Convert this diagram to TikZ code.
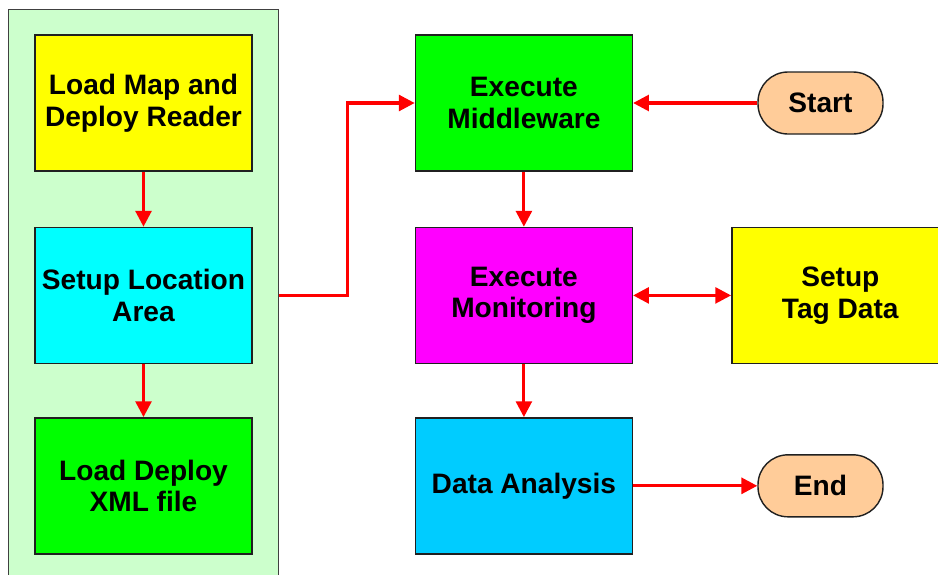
\documentclass[tikz,border=0pt]{standalone}
\usepackage{fontspec}
\setmainfont{Liberation Sans}
\usepackage{tikz}
\usetikzlibrary{positioning,arrows.meta}
\definecolor{panelfill}{HTML}{CCFFCC}
\definecolor{panelline}{HTML}{404040}
\definecolor{boxline}{HTML}{202020}
\definecolor{loadfill}{HTML}{FFFF00}
\definecolor{areafill}{HTML}{00FFFF}
\definecolor{xmlfill}{HTML}{00FF00}
\definecolor{monfill}{HTML}{FF00FF}
\definecolor{datafill}{HTML}{00CCFF}
\definecolor{termfill}{HTML}{FFCC99}
\definecolor{flowred}{HTML}{FF0000}
\tikzset{
  stepbox/.style={draw=boxline, line width=0.8pt, align=center, minimum width=4.34cm, minimum height=2.72cm,
                  inner sep=2pt, font=\fontsize{16}{18}\selectfont\bfseries},
  term/.style={draw=boxline, line width=0.8pt, fill=termfill, rounded corners=0.6cm, minimum width=2.5cm,
               minimum height=1.24cm, font=\fontsize{16}{18}\selectfont\bfseries},
  panel/.style={draw=panelline, line width=0.8pt, fill=panelfill, anchor=north west, inner sep=0pt},
  flow/.style={-{Triangle[length=9pt,width=9pt]}, draw=flowred, line width=1.8pt},
  both/.style={{Triangle[length=9pt,width=9pt]}-{Triangle[length=9pt,width=9pt]}, draw=flowred, line width=1.8pt},
}

\begin{document}
\begin{tikzpicture}
  \clip (0,0) rectangle (18.76,-11.48);
  \node[panel, minimum width=5.4cm, minimum height=12cm] (panel) at (0.16,-0.18) {};
  % left column
  \node[stepbox, fill=loadfill] (load) at (2.87,-2.06) {Load Map and\\Deploy Reader};
  \node[stepbox, fill=areafill, below=1.1cm of load] (area) {Setup Location\\Area};
  \node[stepbox, fill=xmlfill, below=1.06cm of area] (xml) {Load Deploy\\XML file};
  % middle column
  \node[stepbox, fill=xmlfill, right=3.24cm of load] (mw) {Execute\\Middleware};
  \node[stepbox, fill=monfill, below=1.1cm of mw] (mon) {Execute\\Monitoring};
  \node[stepbox, fill=datafill, below=1.06cm of mon] (data) {Data Analysis};
  % right side
  \node[stepbox, fill=loadfill, right=1.96cm of mon] (tag) {Setup\\Tag Data};
  \node[term] (start) at (16.41,-2.06) {Start};
  \node[term] (end) at (start |- data) {End};
  \foreach \a/\b in {load/area,area/xml,mw/mon,mon/data} \draw[flow] (\a.south) -- (\b.north);
  \draw[flow] (panel.east |- area.east) -- ++(1.36,0) |- (mw.west);
  \draw[flow] (start.west) -- (mw.east);
  \draw[both] (mon.east) -- (tag.west);
  \draw[flow] (data.east) -- (end.west);
\end{tikzpicture}
\end{document}
